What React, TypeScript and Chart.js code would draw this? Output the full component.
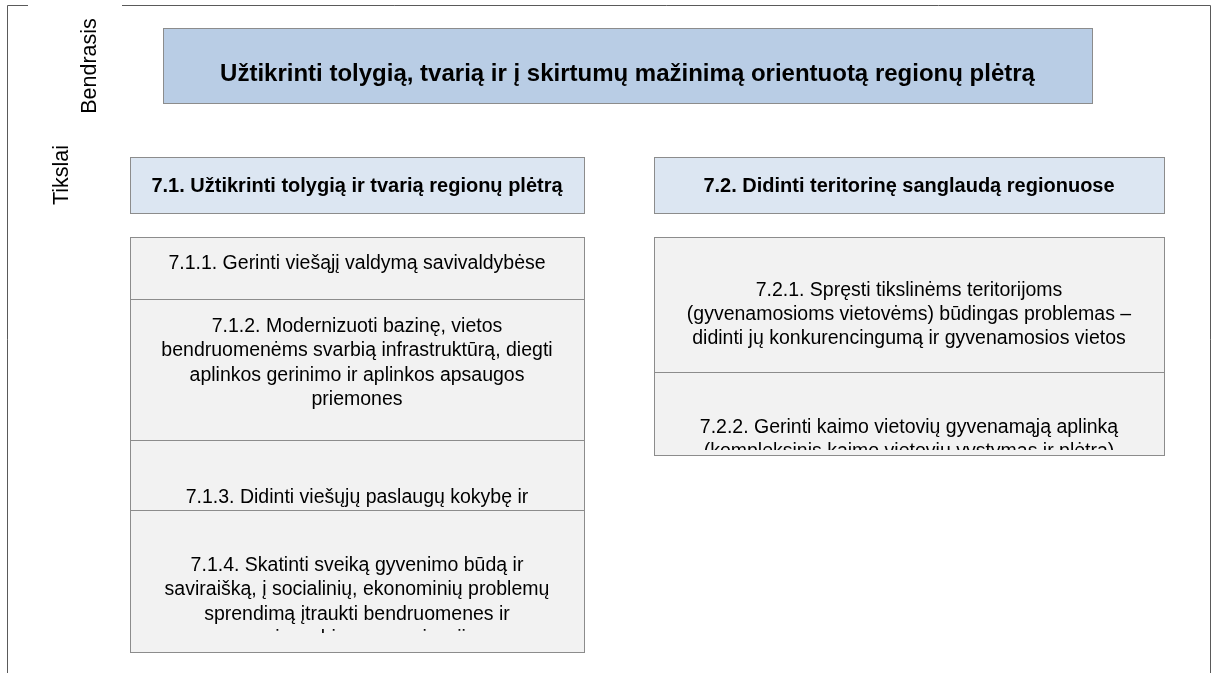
import React, { useEffect, useRef } from "react";
import { Chart, registerables } from "chart.js";

Chart.register(...registerables);

// ---------- content ----------
const GOAL_LABEL = "Bendrasis";
const OBJECTIVE_LABEL = "Tikslai";
const GOAL_TEXT = "Užtikrinti tolygią, tvarią ir į skirtumų mažinimą orientuotą regionų plėtrą";
const OBJECTIVES = [
  "7.1. Užtikrinti tolygią ir tvarią regionų plėtrą",
  "7.2. Didinti teritorinę sanglaudą regionuose",
];
const TASKS_71 = [
  ["7.1.1. Gerinti viešąjį valdymą savivaldybėse"],
  [
    "7.1.2. Modernizuoti bazinę, vietos",
    "bendruomenėms svarbią infrastruktūrą, diegti",
    "aplinkos gerinimo ir aplinkos apsaugos",
    "priemones",
  ],
  ["7.1.3. Didinti viešųjų paslaugų kokybę ir", "prieinamumą"],
  [
    "7.1.4. Skatinti sveiką gyvenimo būdą ir",
    "saviraišką, į socialinių, ekonominių problemų",
    "sprendimą įtraukti bendruomenes ir",
    "nevyriausybines organizacijas",
  ],
];
const TASKS_72 = [
  [
    "7.2.1. Spręsti tikslinėms teritorijoms",
    "(gyvenamosioms vietovėms) būdingas problemas –",
    "didinti jų konkurencingumą ir gyvenamosios vietos",
    "patrauklumą",
  ],
  [
    "7.2.2. Gerinti kaimo vietovių gyvenamąją aplinką",
    "(kompleksinis kaimo vietovių vystymas ir plėtra)",
  ],
];

// ---------- layout (diagram units) ----------
const FRAME_X = [7, 1210];
const FRAME_TOP = 5;
const FRAME_GAP = [28, 122];
const GOAL_LABEL_POS = [90, 66];
const OBJ_LABEL_POS = [62, 175];
const GOAL_BOX_X = [163, 1092];
const GOAL_BOX_Y = [28, 103];
const GOAL_BASELINE = 80.5;
const COL_X = [
  [130, 584],
  [654, 1164],
];
const OBJ_BOX_Y = [157, 213];
const OBJ_BASELINE = 192;
const EDGES_71 = [237, 299, 440, 510, 652];
const EDGES_72 = [237, 372, 455];
const FIRST_BASELINE_71 = [268.5, 332, 502.5, 571];
const FIRST_BASELINE_72 = [295.5, 432.5];
const CLIP_71 = [299, 440, 510, 633];
const CLIP_72 = [352, 450];
const LINE_HEIGHT = 24.4;

const FONT = '"Liberation Sans", Arial, sans-serif';

const diagramPlugin = {
  id: "diagram",
  afterDraw(chart: any) {
    const ctx = chart.ctx as CanvasRenderingContext2D;
    const xs = chart.scales.x;
    const ys = chart.scales.y;
    const X = (v: number) => Math.round(xs.getPixelForValue(v));
    const Y = (v: number) => Math.round(ys.getPixelForValue(v));

    ctx.save();
    // frame
    ctx.strokeStyle = "#5a5a5a";
    ctx.lineWidth = 1;
    ctx.beginPath();
    ctx.moveTo(X(FRAME_X[0]) + 0.5, Y(673));
    ctx.lineTo(X(FRAME_X[0]) + 0.5, Y(FRAME_TOP) + 0.5);
    ctx.lineTo(X(FRAME_GAP[0]), Y(FRAME_TOP) + 0.5);
    ctx.moveTo(X(FRAME_GAP[1]), Y(FRAME_TOP) + 0.5);
    ctx.lineTo(X(FRAME_X[1]) + 0.5, Y(FRAME_TOP) + 0.5);
    ctx.lineTo(X(FRAME_X[1]) + 0.5, Y(673));
    ctx.stroke();

    const box = (x0: number, x1: number, y0: number, y1: number, fill: string, stroke: string) => {
      const px0 = X(x0), px1 = X(x1), py0 = Y(y0), py1 = Y(y1);
      ctx.fillStyle = fill;
      ctx.fillRect(px0, py0, px1 - px0, py1 - py0);
      ctx.strokeStyle = stroke;
      ctx.lineWidth = 1;
      ctx.strokeRect(px0 + 0.5, py0 + 0.5, px1 - px0, py1 - py0);
    };

    // rotated labels
    ctx.fillStyle = "#000";
    ctx.font = `21.5px ${FONT}`;
    ctx.textAlign = "center";
    ctx.textBaseline = "middle";
    for (const [label, pos] of [
      [GOAL_LABEL, GOAL_LABEL_POS],
      [OBJECTIVE_LABEL, OBJ_LABEL_POS],
    ] as [string, number[]][]) {
      ctx.save();
      ctx.translate(xs.getPixelForValue(pos[0]), ys.getPixelForValue(pos[1]));
      ctx.rotate(-Math.PI / 2);
      ctx.fillText(label, 0, 0);
      ctx.restore();
    }
    ctx.textBaseline = "alphabetic";

    // goal box
    box(GOAL_BOX_X[0], GOAL_BOX_X[1], GOAL_BOX_Y[0], GOAL_BOX_Y[1], "#b9cde5", "#8c8c8c");
    ctx.fillStyle = "#000";
    ctx.font = `bold 24px ${FONT}`;
    ctx.fillText(GOAL_TEXT, xs.getPixelForValue((GOAL_BOX_X[0] + GOAL_BOX_X[1]) / 2), ys.getPixelForValue(GOAL_BASELINE));

    // objectives
    OBJECTIVES.forEach((t, i) => {
      box(COL_X[i][0], COL_X[i][1], OBJ_BOX_Y[0], OBJ_BOX_Y[1], "#dce6f2", "#8c8c8c");
      ctx.fillStyle = "#000";
      ctx.font = `bold 20px ${FONT}`;
      ctx.fillText(t, xs.getPixelForValue((COL_X[i][0] + COL_X[i][1]) / 2), ys.getPixelForValue(OBJ_BASELINE));
    });

    // tasks
    const column = (col: number, tasks: string[][], edges: number[], first: number[], clips: number[]) => {
      tasks.forEach((lines, i) => {
        const [x0, x1] = COL_X[col];
        box(x0, x1, edges[i], edges[i + 1], "#f2f2f2", "#8c8c8c");
        ctx.save();
        ctx.beginPath();
        ctx.rect(X(x0) + 1, Y(edges[i]) + 1, X(x1) - X(x0) - 1, Y(clips[i]) - Y(edges[i]) - 1);
        ctx.clip();
        ctx.fillStyle = "#000";
        ctx.font = `19.5px ${FONT}`;
        lines.forEach((ln, j) => {
          ctx.fillText(ln, xs.getPixelForValue((x0 + x1) / 2), ys.getPixelForValue(first[i] + j * LINE_HEIGHT));
        });
        ctx.restore();
      });
    };
    column(0, TASKS_71, EDGES_71, FIRST_BASELINE_71, CLIP_71);
    column(1, TASKS_72, EDGES_72, FIRST_BASELINE_72, CLIP_72);
    ctx.restore();
  },
};

export default function App() {
  const ref = useRef<HTMLCanvasElement | null>(null);
  useEffect(() => {
    if (!ref.current) return;
    const chart = new Chart(ref.current, {
      type: "scatter",
      data: { datasets: [{ data: [], pointRadius: 0 }] },
      options: {
        animation: false,
        responsive: false,
        devicePixelRatio: 1,
        layout: { padding: 0 },
        plugins: { legend: { display: false }, tooltip: { enabled: false } },
        events: [],
        scales: {
          x: { type: "linear", min: 0, max: 1218, display: false },
          y: { type: "linear", min: 0, max: 673, reverse: true, display: false },
        },
      },
      plugins: [diagramPlugin],
    });
    return () => chart.destroy();
  }, []);
  return (
    <div style={{ position: "fixed", left: 0, top: 0, width: 1218, height: 673, background: "#fff" }}>
      <canvas ref={ref} width={1218} height={673} style={{ display: "block" }} />
    </div>
  );
}
